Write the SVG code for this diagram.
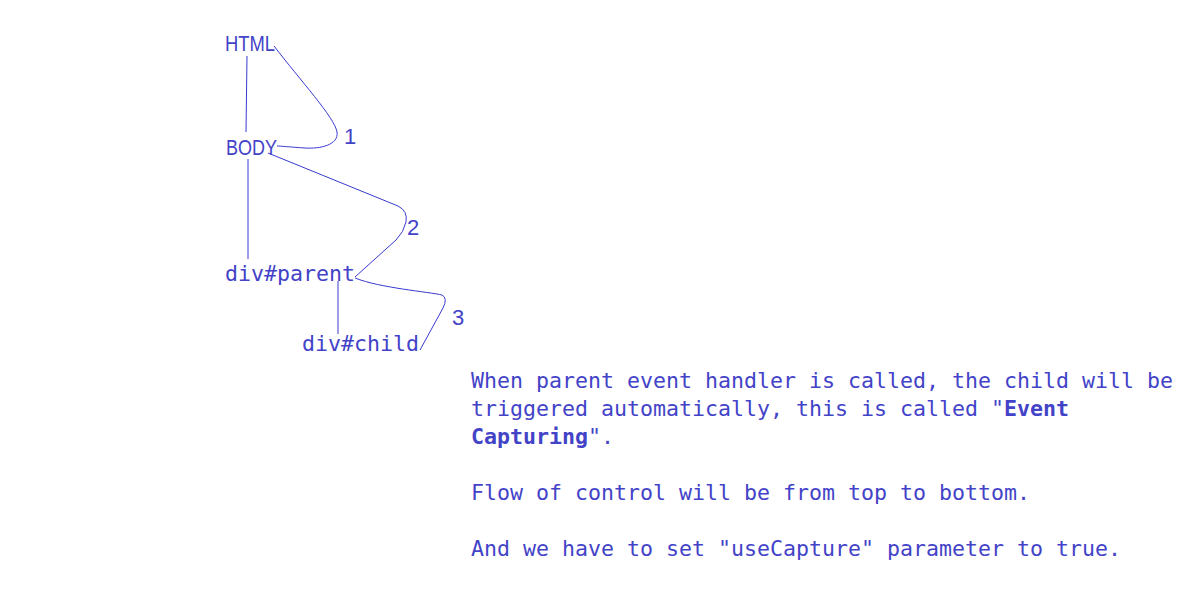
<svg xmlns="http://www.w3.org/2000/svg" width="1188" height="600" viewBox="0 0 1188 600">
<style>
.sans{font-family:"Liberation Sans",Arial,sans-serif;font-size:22px;fill:#4343c8}
.mono{font-family:"DejaVu Sans Mono","Liberation Mono",monospace;font-size:21.6px;fill:#4343c8}
.b{font-weight:bold}
.c{fill:none;stroke:#3a3ad0;stroke-width:1}
</style>
<rect width="1188" height="600" fill="#ffffff"/>
<g id="connectors">
<path class="c" d="M247,56 L246,132"/>
<path class="c" d="M248,159 L248,259"/>
<path class="c" d="M338,281 L338,334"/>
<path class="c" d="M274,46 C300,80 335,118 337,132 C339,145 320,149 305,148 C290,147 280,146 277,146"/>
<path class="c" d="M268,153 L398,206 Q408,211 406,222 Q404,232 396,240 L355,277"/>
<path class="c" d="M355,278 C380,288 430,292 442,295 Q448,298 443,308 L420,350"/>
</g>
<g id="node-html"><text class="sans" x="225" y="51" textLength="50" lengthAdjust="spacingAndGlyphs">HTML</text></g>
<g id="node-body"><text class="sans" x="226" y="155" textLength="51" lengthAdjust="spacingAndGlyphs">BODY</text></g>
<g id="node-parent"><text class="mono" x="225" y="281">div#parent</text></g>
<g id="node-child"><text class="mono" x="302" y="351">div#child</text></g>
<g id="labels">
<text class="sans" x="344" y="144">1</text>
<text class="sans" x="407" y="235">2</text>
<text class="sans" x="452" y="325">3</text>
</g>
<g id="note">
<text class="mono" x="471" y="388">When parent event handler is called, the child will be</text>
<text class="mono" x="471" y="416">triggered automatically, this is called "<tspan class="b">Event</tspan></text>
<text class="mono" x="471" y="444"><tspan class="b">Capturing</tspan>".</text>
<text class="mono" x="471" y="500">Flow of control will be from top to bottom.</text>
<text class="mono" x="471" y="556">And we have to set "useCapture" parameter to true.</text>
</g>
</svg>
